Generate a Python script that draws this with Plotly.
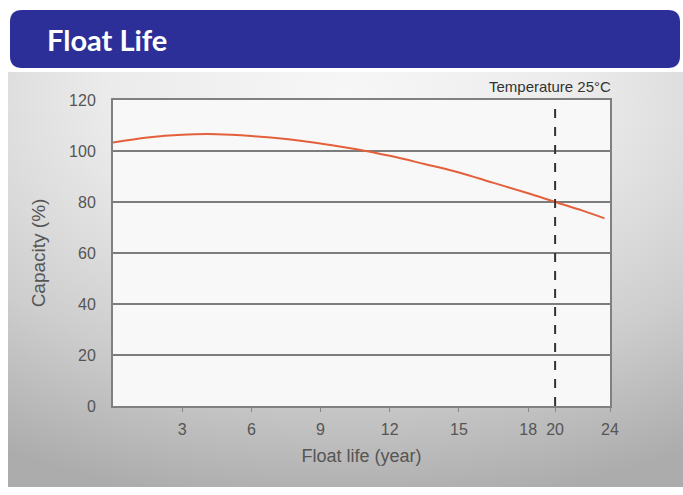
import base64
import numpy as np
import plotly.graph_objects as go

# Float life curve (capacity % vs years on float at 25 C)
years = [0, 1.5, 3, 4.5, 6, 7.5, 9, 10.5, 12, 13.5, 15, 16.5, 18, 20, 22, 23.6]
capacity = [103.3, 105.3, 106.4, 106.6, 105.9, 104.7, 102.9, 100.8, 98.1, 94.9, 91.6, 87.5, 83.4, 80.0, 76.6, 73.6]

tick_years = [3, 6, 9, 12, 15, 18, 20, 24]
rated_life = 20
temp_note = "Temperature 25°C"

# the printed axis is squeezed after 18 years, reproduce that scale
knot_years = [0, 18, 20, 24]
knot_pos = [0, 18, 19.17, 21.55]


def axis_pos(v):
    return np.interp(v, knot_years, knot_pos)


W, H = 683, 495
L, R, T, B = 113, 73, 100, 89


def px(x):
    return (x - L) / (W - L - R)


def py(y):
    return (H - B - y) / (H - T - B)


fig = go.Figure()

fig.add_trace(go.Scatter(
    x=axis_pos(years), y=capacity,
    mode='lines', line=dict(color='#e4603a', width=2, shape='spline'),
    showlegend=False, hoverinfo='skip'
))

fig.add_vline(x=float(axis_pos(rated_life)), line=dict(color='#333333', width=2, dash='dash'))

# header bar with rounded corners
x0, x1, y0, y1, r = 10, 680, 10, 68, 12
path = (f"M {px(x0 + r)} {py(y0)} L {px(x1 - r)} {py(y0)} Q {px(x1)} {py(y0)} {px(x1)} {py(y0 + r)} "
        f"L {px(x1)} {py(y1 - r)} Q {px(x1)} {py(y1)} {px(x1 - r)} {py(y1)} "
        f"L {px(x0 + r)} {py(y1)} Q {px(x0)} {py(y1)} {px(x0)} {py(y1 - r)} "
        f"L {px(x0)} {py(y0 + r)} Q {px(x0)} {py(y0)} {px(x0 + r)} {py(y0)} Z")
fig.add_shape(type='path', path=path, xref='paper', yref='paper',
              fillcolor='#2b2f97', line=dict(width=0), layer='below')

# near-white plotting area on top of the grey panel
fig.add_shape(type='rect', xref='paper', yref='paper', x0=0, x1=1, y0=0, y1=1,
              fillcolor='#f8f8f8', line=dict(width=0), layer='below')

# grey gradient panel behind the chart
svg = ('<svg xmlns="http://www.w3.org/2000/svg" width="675" height="415">'
       '<defs><radialGradient id="g" cx="0.5" cy="0.05" r="1.0">'
       '<stop offset="0" stop-color="#f7f7f7"/><stop offset="0.35" stop-color="#ebebeb"/>'
       '<stop offset="0.7" stop-color="#cdcdcd"/><stop offset="1" stop-color="#acacac"/>'
       '</radialGradient></defs><rect width="675" height="415" fill="url(#g)"/></svg>')
src = 'data:image/svg+xml;base64,' + base64.b64encode(svg.encode()).decode()
fig.add_layout_image(source=src, xref='paper', yref='paper', x=px(8), y=py(72),
                     sizex=px(683) - px(8), sizey=py(72) - py(487),
                     xanchor='left', yanchor='top', sizing='stretch', layer='below')

fig.add_annotation(text='<b>Float Life</b>', xref='paper', yref='paper', x=px(45), y=py(39),
                   xanchor='left', yanchor='middle', showarrow=False,
                   font=dict(family='Lato', size=29, color='white'))
fig.add_annotation(text=temp_note, xref='paper', yref='paper', x=px(613), y=py(87),
                   xanchor='right', yanchor='middle', showarrow=False,
                   font=dict(family='Liberation Sans', size=15, color='#333333'))

fig.update_xaxes(
    range=[0, knot_pos[-1]], tickvals=axis_pos(tick_years), ticktext=[str(t) for t in tick_years],
    ticks='outside', ticklen=4, tickcolor='#888888', ticklabelstandoff=4,
    showgrid=False, zeroline=False, showline=True, linecolor='#808080', linewidth=2, mirror=True,
    tickfont=dict(family='Liberation Sans', size=16, color='#555555'),
    title=dict(text='Float life (year)', standoff=12,
               font=dict(family='Liberation Sans', size=18, color='#555555'))
)
fig.update_yaxes(
    range=[0, 120], dtick=20, ticks='', ticklabelstandoff=12,
    showgrid=True, gridcolor='#7c7c7c', gridwidth=1.5, zeroline=False,
    showline=True, linecolor='#808080', linewidth=2, mirror=True,
    tickfont=dict(family='Liberation Sans', size=16, color='#555555'),
    title=dict(text='Capacity (%)', standoff=18,
               font=dict(family='Liberation Sans', size=19, color='#555555'))
)

fig.update_layout(
    width=W, height=H, autosize=False,
    margin=dict(l=L, r=R, t=T, b=B),
    paper_bgcolor='white', plot_bgcolor='#f8f8f8',
    showlegend=False
)

# drop the default page margin so the figure sits at the window corner
fig.write_html("out.html", config={'displayModeBar': False},
               post_script="document.body.style.margin='0';")
